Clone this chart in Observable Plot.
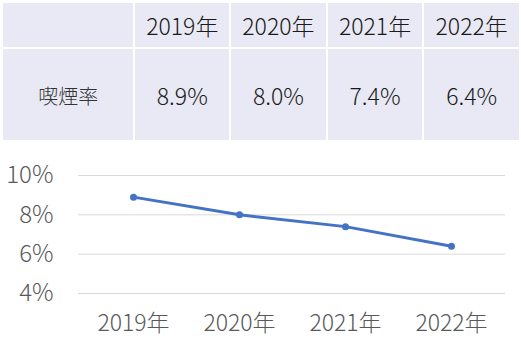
<!DOCTYPE html>
<html>
<head>
<meta charset="utf-8">
<script src="https://cdn.jsdelivr.net/npm/d3@7"></script>
<script src="https://cdn.jsdelivr.net/npm/@observablehq/plot@0.6"></script>
<style>
  body { margin: 0; background: #fff; font-family: "Noto Sans CJK JP", sans-serif; }
  #wrap { width: 521px; height: 358px; position: relative; }
  table { position: absolute; left: 1px; top: 1px; border-collapse: collapse; }
  td { background: #e8e9f4; border: 2px solid #fff; text-align: center; color: #1a1a1a; font-size: 23px; font-weight: 300; padding: 0; }
  tr.h td { height: 44px; }
  tr.d td { height: 92px; }
  td.lab { font-size: 20px; color: #333; }
  #chart { position: absolute; left: 0; top: 140px; }
</style>
</head>
<body>
<div id="wrap">
  <table id="tbl"></table>
  <div id="chart"></div>
</div>
<script>
const years = ["2019年", "2020年", "2021年", "2022年"];
const rates = [8.9, 8.0, 7.4, 6.4];
const rowLabel = "喫煙率";
const yTicks = [4, 6, 8, 10];

// table
const tbl = document.getElementById("tbl");
const colW = [134, 95, 96, 96, 96];
const hr = document.createElement("tr"); hr.className = "h";
const dr = document.createElement("tr"); dr.className = "d";
const h0 = document.createElement("td"); h0.style.width = colW[0] + "px"; hr.appendChild(h0);
const d0 = document.createElement("td"); d0.className = "lab"; d0.textContent = rowLabel; dr.appendChild(d0);
years.forEach((y, i) => {
  const th = document.createElement("td"); th.textContent = y; th.style.width = colW[i + 1] + "px"; hr.appendChild(th);
  const td = document.createElement("td"); td.textContent = rates[i].toFixed(1) + "%"; dr.appendChild(td);
});
tbl.appendChild(hr); tbl.appendChild(dr);

const data = years.map((y, i) => ({year: y, rate: rates[i]}));

const chart = Plot.plot({
  width: 521,
  height: 218,
  marginLeft: 78,
  marginRight: 16,
  marginTop: 35,
  marginBottom: 65,
  style: { fontFamily: "'Noto Sans CJK JP', sans-serif", fontSize: "23px", fontWeight: 300, color: "#595959", background: "#fff", overflow: "visible" },
  x: { domain: years, type: "band", padding: 0, label: null },
  y: { domain: [4, 10], label: null },
  marks: [
    Plot.ruleY(yTicks, { stroke: "#d9d9d9", strokeWidth: 1 }),
    Plot.axisY(yTicks, { tickSize: 0, tickPadding: 25, tickFormat: d => d + "%", fill: "#595959", fontSize: 24, fontWeight: 300, label: null }),
    Plot.axisX({ tickSize: 0, tickPadding: 21, fill: "#595959", fontSize: 23, fontWeight: 300, label: null }),
    Plot.line(data, { x: "year", y: "rate", stroke: "#4472c4", strokeWidth: 3 }),
    Plot.dot(data, { x: "year", y: "rate", fill: "#4472c4", r: 3.5 })
  ]
});
document.getElementById("chart").appendChild(chart);
</script>
</body>
</html>
